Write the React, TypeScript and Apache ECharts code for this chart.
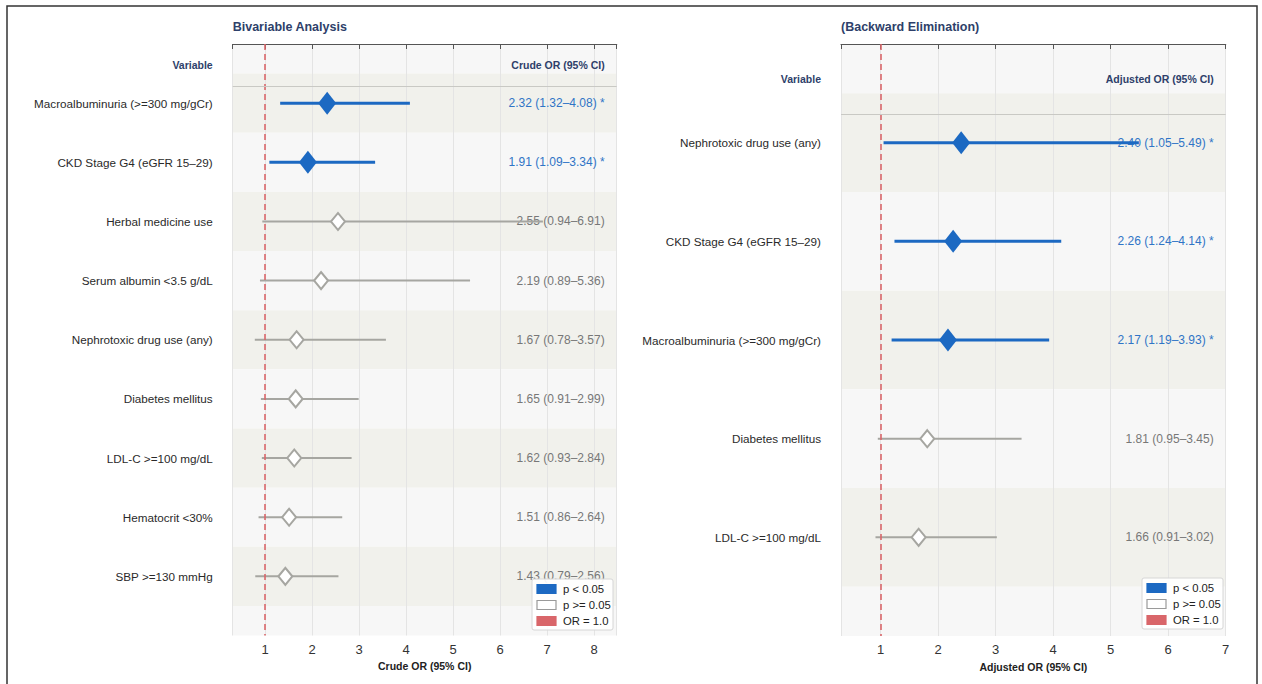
import React, { useEffect, useRef } from "react";
import * as echarts from "echarts";

// ---------- data ----------
const LEFT_TITLE = "Bivariable Analysis";
const RIGHT_TITLE = "(Backward Elimination)";
const LEFT_VARS = [
  "Macroalbuminuria (>=300 mg/gCr)",
  "CKD Stage G4 (eGFR 15–29)",
  "Herbal medicine use",
  "Serum albumin <3.5 g/dL",
  "Nephrotoxic drug use (any)",
  "Diabetes mellitus",
  "LDL-C >=100 mg/dL",
  "Hematocrit <30%",
  "SBP >=130 mmHg",
];
const LEFT_OR = [2.32, 1.91, 2.55, 2.19, 1.67, 1.65, 1.62, 1.51, 1.43];
const LEFT_LO = [1.32, 1.09, 0.94, 0.89, 0.78, 0.91, 0.93, 0.86, 0.79];
const LEFT_HI = [4.08, 3.34, 6.91, 5.36, 3.57, 2.99, 2.84, 2.64, 2.56];

const RIGHT_VARS = [
  "Nephrotoxic drug use (any)",
  "CKD Stage G4 (eGFR 15–29)",
  "Macroalbuminuria (>=300 mg/gCr)",
  "Diabetes mellitus",
  "LDL-C >=100 mg/dL",
];
const RIGHT_OR = [2.4, 2.26, 2.17, 1.81, 1.66];
const RIGHT_LO = [1.05, 1.24, 1.19, 0.95, 0.91];
const RIGHT_HI = [5.49, 4.14, 3.93, 3.45, 3.02];

const LEFT_X_RANGE = [0.31, 8.48];
const RIGHT_X_RANGE = [0.31, 7.0];
const LEFT_X_NAME = "Crude OR (95% CI)";
const RIGHT_X_NAME = "Adjusted OR (95% CI)";
const VAR_HEADER = "Variable";
const LEGEND_LABELS = ["p < 0.05", "p >= 0.05", "OR = 1.0"];
const REF_OR = 1;

// ---------- style ----------
const FONT = "'Liberation Sans', Arial, Helvetica, sans-serif";
const BLUE = "#1c69c2";
const BLUE_TEXT = "#2f74c6";
const GRAY = "#a6a6a1";
const GRAY_TEXT = "#777777";
const NAVY = "#2e3f6a";
const RED = "#d9666a";
const BAND_DARK = "#f1f1ec";
const BAND_LIGHT = "#f7f7f7";
const HEADER_Y = 0.35;
const HEADER_LINE_Y = 0.71;

const fmt = (v: number) => v.toFixed(2);

function buildPanel(
  idx: number,
  vars: string[],
  ors: number[],
  los: number[],
  his: number[],
  xr: number[],
  xName: string
) {
  const n = vars.length;
  const bands = [] as number[][];
  for (let i = 0; i <= n + 1; i++) bands.push([xr[0], i]);
  const rows = vars.map((_, i) => i + 1);
  const sig = los.map((l) => l > REF_OR);

  const xAxis = {
    gridIndex: idx,
    type: "value",
    min: xr[0],
    max: xr[1],
    minInterval: 1,
    maxInterval: 1,
    z: 1,
    axisLine: { show: true, lineStyle: { color: "#555", width: 1.2 } },
    axisTick: { show: true, length: 5, lineStyle: { color: "#555" } },
    axisLabel: {
      color: "#333",
      fontSize: 13,
      fontFamily: FONT,
      margin: 7,
      formatter: (v: number) => (Math.abs(v - Math.round(v)) < 1e-6 ? String(Math.round(v)) : ""),
    },
    splitLine: { show: true, lineStyle: { color: "#e4e4e4", width: 1 } },
    name: xName,
    nameLocation: "middle",
    nameGap: 25,
    nameTextStyle: { color: "#222", fontSize: 10.5, fontWeight: "bold", fontFamily: FONT },
  };
  const yAxis = {
    gridIndex: idx,
    type: "value",
    min: 0,
    max: n + 1,
    interval: 1,
    inverse: true,
    z: 1,
    axisLine: { show: false },
    axisTick: { show: false },
    splitLine: { show: false },
    axisLabel: {
      color: "#2a2a2a",
      fontSize: 11.7,
      fontFamily: FONT,
      margin: 20,
      formatter: (v: number) => vars[Math.round(v) - 1] ?? "",
    },
  };

  const series: any[] = [
    {
      type: "custom",
      xAxisIndex: idx,
      yAxisIndex: idx,
      z: 0,
      silent: true,
      encode: { x: 0, y: 1 },
      data: bands,
      renderItem: (params: any, api: any) => {
        const r = api.value(1);
        const cs = params.coordSys;
        const a = api.coord([xr[0], Math.max(0, r - 0.5)]);
        const b = api.coord([xr[0], Math.min(n + 1, r + 0.5)]);
        const dark = r >= 1 && r <= n && r % 2 === 1;
        return {
          type: "rect",
          shape: { x: cs.x, y: a[1], width: cs.width, height: b[1] - a[1] },
          style: { fill: dark ? BAND_DARK : BAND_LIGHT },
        };
      },
    },
    {
      type: "custom",
      xAxisIndex: idx,
      yAxisIndex: idx,
      z: 2,
      silent: true,
      encode: { x: 0, y: 3 },
      data: rows.map((r, i) => [ors[i], los[i], his[i], r, sig[i] ? 1 : 0]),
      renderItem: (params: any, api: any) => {
        const cs = params.coordSys;
        const p = api.coord([api.value(0), api.value(3)]);
        const s = api.value(4) === 1;
        const txt = `${fmt(api.value(0))} (${fmt(api.value(1))}–${fmt(api.value(2))})${s ? " *" : ""}`;
        return {
          type: "text",
          style: {
            x: cs.x + cs.width - 12,
            y: p[1],
            text: txt,
            align: "right",
            verticalAlign: "middle",
            fill: s ? BLUE_TEXT : GRAY_TEXT,
            fontSize: 12,
            fontFamily: FONT,
          },
        };
      },
    },
    {
      type: "custom",
      xAxisIndex: idx,
      yAxisIndex: idx,
      z: 3,
      silent: true,
      encode: { x: [0, 1], y: 2 },
      data: rows.map((r, i) => [los[i], his[i], r, sig[i] ? 1 : 0]),
      renderItem: (params: any, api: any) => {
        const a = api.coord([api.value(0), api.value(2)]);
        const b = api.coord([api.value(1), api.value(2)]);
        const s = api.value(3) === 1;
        return {
          type: "line",
          shape: { x1: a[0], y1: a[1], x2: b[0], y2: b[1] },
          style: { stroke: s ? BLUE : GRAY, lineWidth: s ? 3 : 2 },
        };
      },
    },
    {
      type: "scatter",
      xAxisIndex: idx,
      yAxisIndex: idx,
      z: 4,
      silent: true,
      symbol: "diamond",
      data: rows.map((r, i) => ({
        value: [ors[i], r],
        symbolSize: sig[i] ? [18, 23] : [14, 17],
        itemStyle: sig[i]
          ? { color: BLUE, borderWidth: 0, opacity: 1 }
          : { color: "#ffffff", borderColor: GRAY, borderWidth: 2, opacity: 1 },
      })),
      markLine: {
        silent: true,
        symbol: "none",
        label: { show: false },
        data: [
          { xAxis: REF_OR, lineStyle: { color: RED, type: [6, 4], width: 1.6 } },
          { yAxis: HEADER_LINE_Y, lineStyle: { color: "#c9c9c4", type: "solid", width: 1.2 } },
        ],
      },
    },
  ];
  return { xAxis, yAxis, series };
}

function legendGraphic(x: number, y: number) {
  const Z = 100;
  const children: any[] = [
    {
      type: "rect",
      z: Z,
      shape: { x, y, width: 81, height: 51, r: 2 },
      style: { fill: "rgba(255,255,255,0.9)", stroke: "#d6d6d6", lineWidth: 1 },
    },
  ];
  const swatch = [
    { fill: BLUE, stroke: BLUE },
    { fill: "#ffffff", stroke: "#9a9a9a" },
    { fill: RED, stroke: RED },
  ];
  LEGEND_LABELS.forEach((lab, i) => {
    const cy = y + 10 + i * 16;
    children.push({
      type: "rect",
      z: Z + 1,
      shape: { x: x + 5, y: cy - 4.5, width: 19, height: 9 },
      style: { fill: swatch[i].fill, stroke: swatch[i].stroke, lineWidth: 1.2 },
    });
    children.push({
      type: "text",
      z: Z + 1,
      style: {
        x: x + 31,
        y: cy,
        text: lab,
        fill: "#222",
        fontSize: 11.3,
        fontFamily: FONT,
        verticalAlign: "middle",
      },
    });
  });
  return children;
}

export default function App() {
  const ref = useRef<HTMLDivElement>(null);
  useEffect(() => {
    if (!ref.current) return;
    const chart = echarts.init(ref.current, undefined, { renderer: "svg" });
    const gL = { left: 232.7, top: 44, width: 384, height: 591.5 };
    const gR = { left: 841, top: 44, width: 384.7, height: 592 };
    const L = buildPanel(0, LEFT_VARS, LEFT_OR, LEFT_LO, LEFT_HI, LEFT_X_RANGE, LEFT_X_NAME);
    const R = buildPanel(1, RIGHT_VARS, RIGHT_OR, RIGHT_LO, RIGHT_HI, RIGHT_X_RANGE, RIGHT_X_NAME);
    const rowH = (g: any, n: number) => g.height / (n + 1);
    const txt = (
      text: string,
      x: number,
      y: number,
      align: string,
      size: number,
      weight: string
    ) => ({
      type: "text",
      z: 50,
      style: { x, y, text, align, verticalAlign: "middle", fill: NAVY, fontSize: size, fontFamily: FONT, fontWeight: weight },
    });
    const hyL = gL.top + HEADER_Y * rowH(gL, LEFT_VARS.length);
    const hyR = gR.top + HEADER_Y * rowH(gR, RIGHT_VARS.length);
    chart.setOption({
      animation: false,
      backgroundColor: "#ffffff",
      grid: [
        { ...gL, containLabel: false },
        { ...gR, containLabel: false },
      ],
      xAxis: [L.xAxis, R.xAxis],
      yAxis: [L.yAxis, R.yAxis],
      series: [...L.series, ...R.series],
      graphic: [
        {
          type: "rect",
          z: 0,
          shape: { x: 7, y: 6, width: 1250, height: 700 },
          style: { fill: "none", stroke: "#333", lineWidth: 1.5 },
        },
        txt(LEFT_TITLE, gL.left, 27, "left", 12.5, "bold"),
        txt(RIGHT_TITLE, gR.left, 27, "left", 12.5, "bold"),
        txt(VAR_HEADER, gL.left - 20, hyL, "right", 10.5, "bold"),
        txt(LEFT_X_NAME, gL.left + gL.width - 12, hyL, "right", 10.5, "bold"),
        txt(VAR_HEADER, gR.left - 20, hyR, "right", 10.5, "bold"),
        txt(RIGHT_X_NAME, gR.left + gR.width - 12, hyR, "right", 10.5, "bold"),
        ...legendGraphic(532, 579),
        ...legendGraphic(1142, 578),
      ],
    });
    return () => chart.dispose();
  }, []);
  return (
    <div
      ref={ref}
      style={{ position: "fixed", left: 0, top: 0, width: 1262, height: 684, background: "#fff" }}
    />
  );
}
